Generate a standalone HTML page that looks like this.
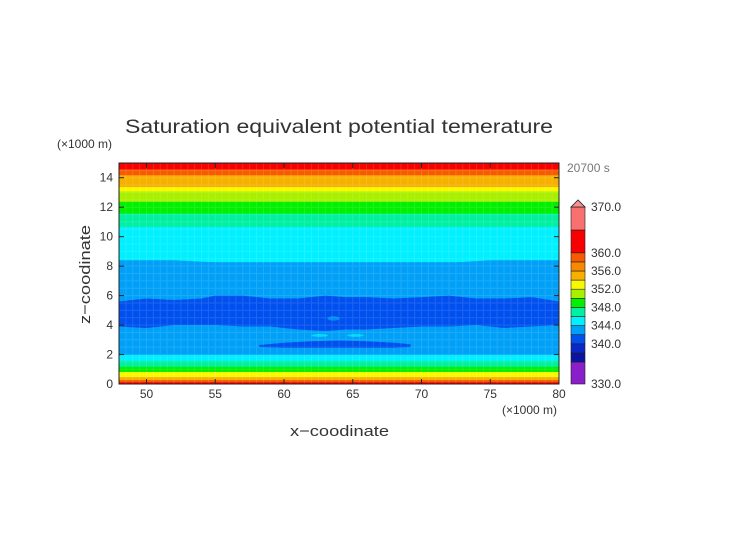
<!DOCTYPE html>
<html><head><meta charset="utf-8"><style>
body{margin:0;background:#fff;}
svg text{font-family:"Liberation Sans","DejaVu Sans",sans-serif;fill:#333;}
</style></head><body>
<svg id="chart" width="752" height="532" viewBox="0 0 752 532" xmlns="http://www.w3.org/2000/svg">
<rect width="752" height="532" fill="#fff"/>
<text x="125" y="133" font-size="19" textLength="428" lengthAdjust="spacingAndGlyphs" style="font-weight:300">Saturation equivalent potential temerature</text>
<text x="57" y="148" font-size="12">(×1000 m)</text>
<text x="567" y="172" font-size="12" style="fill:#777">20700 s</text>
<text x="502" y="414" font-size="12">(×1000 m)</text>
<text x="290" y="436" font-size="15" textLength="99" lengthAdjust="spacingAndGlyphs">x−coodinate</text>
<text transform="translate(90,324) rotate(-90)" font-size="15" textLength="99" lengthAdjust="spacingAndGlyphs">z−coodinate</text>
<g id="plot"></g>
<g id="axes"></g>
<g id="cbar"></g>
</svg>
<script>
// Horizontal background bands: lower z bound, upper z bound, colour level index
const bandLow  = [0,   0.15, 0.3, 0.5, 0.85, 1.2, 1.6, 2.0, 5.7, 8.3, 10.7, 11.6, 12.4, 13.1, 13.4, 14.2, 14.6];
const bandHigh = [0.15,0.3,  0.5, 0.85,1.2,  1.6, 2.0, 5.7, 8.3, 10.7,11.6, 12.4, 13.1, 13.4, 14.2, 14.6, 15];
const bandLevel= [13,  12,   10,  9,   7,    6,   5,   4,   4,   5,   6,    7,    8,    9,    10,   12,   13];
// Colorbar levels (K) and colours
const cbLevels = [330, 336, 338, 340, 342, 344, 346, 348, 350, 352, 354, 356, 358, 360, 364, 370];
const cbColors = ["#8a1ec8","#0a14a0","#0a28c8","#0050f0","#00a0f8","#00f0ff","#00f0a0","#00f000","#a8f000","#f8f800","#f8b000","#f88800","#f85a00","#f80000","#f87070"];
// Deep blue layer (341 K) boundary: top and bottom z along x
const blueX   = [48, 50, 52, 54, 55, 57, 59, 61, 63, 64.5, 66, 68, 70, 72, 74, 76, 78, 80];
const blueTop = [5.6,5.8,5.7,5.8,6.0,6.0,5.8,5.8,6.0,5.9, 5.9,5.8,5.9,6.0,5.8,5.8,5.9,5.6];
const blueBot = [3.9,3.8,4.0,4.0,4.0,3.9,3.9,3.7,3.6,3.7, 3.7,3.8,3.9,3.9,4.0,3.8,3.9,4.0];
// Cyan/light-blue boundary near 8 km (wavy)
const waveX = [48, 52, 56, 57.5, 58.5, 59.5, 60.5, 61.5, 62.5, 63.5, 64.5, 65.5, 66.5, 67.5, 68.5, 70, 75, 80];
const waveZ = [8.4,8.4,8.2,8.05, 8.2,  8.0,  8.2,  8.0,  8.2,  8.0,  8.2,  8.0,  8.2,  8.0,  8.2, 8.1,8.4,8.4];
// Lower deep-blue lens near 2.6 km
const lensX   = [58.2, 60, 62, 64, 66, 68, 69.2];
const lensTop = [2.65, 2.8, 2.9, 2.95,2.9, 2.8, 2.7];
const lensBot = [2.5,  2.45,2.45,2.45,2.45,2.45,2.5];
const xTicks = [50,55,60,65,70,75,80];
const yTicks = [0,2,4,6,8,10,12,14];
const cbLabels = [330,340,344,348,352,356,360,370];

const X0=119,X1=559,Y0=384,Y1=163, xmin=48,xmax=80,zmin=0,zmax=15;
const sx=v=>X0+(v-xmin)/(xmax-xmin)*(X1-X0);
const sy=v=>Y0-(v-zmin)/(zmax-zmin)*(Y0-Y1);
const NS="http://www.w3.org/2000/svg";
function mk(tag,attrs,parent){const e=document.createElementNS(NS,tag);for(const k in attrs)e.setAttribute(k,attrs[k]);parent.appendChild(e);return e;}
const plot=document.getElementById('plot'),axes=document.getElementById('axes'),cbar=document.getElementById('cbar');

bandLow.forEach((lo,i)=>{
  const r=mk('rect',{x:X0,y:sy(bandHigh[i]),width:X1-X0,height:sy(lo)-sy(bandHigh[i])+0.5,fill:cbColors[bandLevel[i]]},plot);
  
  
});
function poly(xs,top,bot,col,name){
  let d='M'+xs.map((x,i)=>sx(x)+','+sy(top[i])).join(' L');
  for(let i=xs.length-1;i>=0;i--)d+=' L'+sx(xs[i])+','+sy(bot[i]);
  const p=mk('path',{d:d+'Z',fill:col},plot);
  
  
}
poly(waveX,waveZ,waveX.map(()=>5),cbColors[4],'light-blue-region');
poly(blueX,blueTop,blueBot,cbColors[3],'blue-layer');
poly(lensX,lensTop,lensBot,cbColors[3],'blue-lens');
// small features
[[63.6,4.45,0.45,0.15,4],[62.6,3.3,0.6,0.1,5],[65.2,3.3,0.6,0.1,5]].forEach(f=>{
  const e=mk('ellipse',{cx:sx(f[0]),cy:sy(f[1]),rx:(sx(f[2])-sx(0)),ry:(sy(0)-sy(f[3])),fill:cbColors[f[4]],'fill-opacity':0.7},plot);
  
  
});
const g=mk('path',{d:`M${sx(62.3)},${sy(0.85)} Q${sx(63.5)},${sy(1.4)} ${sx(64.7)},${sy(0.85)}Z`,fill:cbColors[7]},plot);


// faint grid
let gd='';
for(let x=48;x<=80;x+=0.5)gd+=`M${sx(x)},${Y1}V${Y0}`;
for(let z=0;z<=15;z+=0.5)gd+=`M${X0},${sy(z)}H${X1}`;
const gp=mk('path',{d:gd,stroke:'#fff',"stroke-opacity":0.12,"stroke-width":1,fill:'none'},plot);



const frame=mk('rect',{x:X0,y:Y1,width:X1-X0,height:Y0-Y1,fill:'none',stroke:'#222','stroke-width':1},axes);


xTicks.forEach(v=>{
  mk('line',{x1:sx(v),x2:sx(v),y1:Y0,y2:Y0-5,stroke:'#222'},axes);
  mk('line',{x1:sx(v),x2:sx(v),y1:Y1,y2:Y1+5,stroke:'#222'},axes);
  const t=mk('text',{x:sx(v),y:398,'font-size':12,'text-anchor':'middle'},axes);
  t.textContent=v;
  
  
});
yTicks.forEach(v=>{
  mk('line',{x1:X0,x2:X0+5,y1:sy(v),y2:sy(v),stroke:'#222'},axes);
  mk('line',{x1:X1,x2:X1-5,y1:sy(v),y2:sy(v),stroke:'#222'},axes);
  const t=mk('text',{x:X0-6,y:sy(v)+4,'font-size':12,'text-anchor':'end'},axes);
  t.textContent=v;
  
  
});
// colorbar
const CX=571,CW=14;
const cy=v=>{
  if(v<=336)return 384-(v-330)/6*22;
  if(v<=360)return 362-(v-336)/2*9.1;
  if(v<=364)return 252.8-(v-360)/4*22.8;
  return 230-(v-364)/6*23;};
cbColors.forEach((c,i)=>{
  const r=mk('rect',{x:CX,y:cy(cbLevels[i+1]),width:CW,height:cy(cbLevels[i])-cy(cbLevels[i+1]),fill:c,stroke:'#222','stroke-width':0.6},cbar);
  
  
});
const tri=mk('path',{d:`M${CX},207 L${CX+7},200 L${CX+CW},207Z`,fill:'#f89090',stroke:'#222','stroke-width':0.8},cbar);


cbLabels.forEach(v=>{
  const t=mk('text',{x:591,y:cy(v)+4,'font-size':12},cbar);
  t.textContent=v.toFixed(1);
  
  
});
</script>
</body></html>
